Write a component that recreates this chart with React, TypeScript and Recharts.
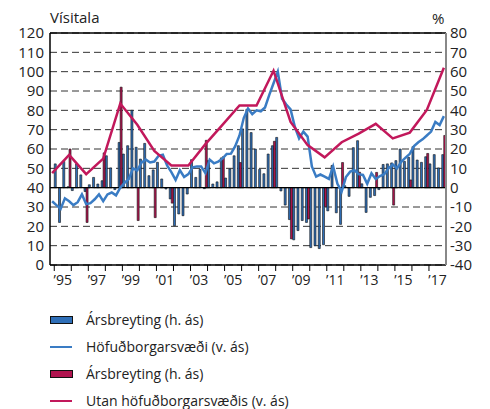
import React from 'react';
import { ComposedChart, Bar, Line, XAxis, YAxis, CartesianGrid, ReferenceLine } from 'recharts';

// Quarterly series, first quarter = 1994 Q4, last = 2017 Q4
const blueIndex = [
  33, 31, 29, 34.5, 33, 31, 32.5, 36.5, 31.5, 32, 34, 36.5, 33, 36.5, 37.5, 36,
  40, 42.5, 44.5, 50, 49, 53, 54.5, 53, 53.5, 56.5, 57, 51.5, 48, 44, 49, 45.5,
  47, 50.5, 51, 51, 47.5, 54.5, 52.6, 53.5, 55, 57.4, 57.6, 61.5, 67, 76, 81, 78,
  80, 79.5, 81.5, 88, 94, 100, 86, 83, 80.5, 71.5, 65.5, 69, 66.4, 51, 45.7, 46.8,
  45.7, 44.5, 51, 42, 38, 45.5, 48.3, 49, 47, 46.6, 42, 47.4, 44.5, 46, 47, 50,
  52, 50, 53.4, 55.5, 57.5, 61.5, 63.5, 65, 67, 69, 74, 72.4, 77,
];
const blueChange: (number | null)[] = [
  null, 12.3, -18, 13.6, 0.5, -1.5, 12.3, 6.6, -2, 1.5, 5.3, 1.9, 3.6, 16.5, 10.2, -1,
  23.4, 17.4, 21.7, 40, 20.9, 14.8, 22.9, 6.2, 9.2, 13.1, 4.5, -0.7, -5.8, -19.7, -13.6, -14.5,
  -3.3, 14.5, 5.3, 9.5, -0.5, 14, 1.9, 3, 15.4, 5, 9.7, 16.5, 21.7, 30.4, 40.5, 28.5,
  20, 9.5, 7.2, 17.4, 21.7, 26, -1.7, -9, -16.5, -27, -22.2, -17, -18, -31, -30, -31.5,
  -29.5, -12, 11.5, -13, -19, 1, -4.5, 20.7, 24.3, 2, -12.8, -5, -4.1, -1, 12, 12.3,
  12.8, 14, 20, 13.6, 15.7, 21.2, 14.3, 13.1, 16, 12.3, 17.1, 10.2, 17.1,
];
// Annual series (Q4 of 1994 ... 2017)
const pinkIndex = [
  47.5, 57, 47, 55, 83.5, 72.5, 59, 51.5, 51.5, 62.5, 72.5, 82.5,
  82.5, 100.5, 74, 62, 55.7, 63.5, 68, 73, 65.5, 68.5, 80.2, 102,
];
const pinkChange: (number | null)[] = [
  null, 20, -18, 18, 52, -17, -15.5, -8, 0, 24.5, 16, 13,
  0, 24, -26.5, -16.2, -9.8, 13, 8, 7.9, -9, 4, 17.7, 27,
];
const labelYears = [1995, 1997, 1999, 2001, 2003, 2005, 2007, 2009, 2011, 2013, 2015, 2017];
const yearLabels = ['’95', '’97', '’99', '’01', '’03', '’05', '’07', '’09', '’11', '’13', '’15', '’17'];
const leftTicks = [0, 10, 20, 30, 40, 50, 60, 70, 80, 90, 100, 110, 120];
const rightTicks = [-40, -30, -20, -10, 0, 10, 20, 30, 40, 50, 60, 70, 80];

const data = blueIndex.map((v, i) => {
  const isQ4 = i % 4 === 0;
  const k = i / 4;
  return {
    t: 1994.875 + i * 0.25,
    blueIdx: v,
    blueChg: blueChange[i],
    pinkIdx: isQ4 ? pinkIndex[k] : null,
    pinkChg: isQ4 ? pinkChange[k] : null,
  };
});

const xTicks: number[] = [];
for (let y = 1995; y <= 2017; y++) {
  xTicks.push(y);
  if (labelYears.includes(y)) xTicks.push(y + 0.5);
}

const FONT = '"Open Sans", sans-serif';
const BLUE = '#3a7cc4';
const PINK = '#c2185b';
const BLUE_BAR = '#2f6fb8';
const RED_BAR = '#b0144f';

const renderXTick = (props: any) => {
  const { x, y, payload } = props;
  const v = payload.value as number;
  if (Number.isInteger(v)) {
    return <line x1={x} x2={x} y1={y - 6} y2={y} stroke="#000" strokeWidth={1} />;
  }
  const idx = labelYears.indexOf(Math.floor(v));
  if (idx < 0) return <g />;
  return (
    <text x={x} y={y + 14} textAnchor="middle" fontFamily={FONT} fontSize={14} fill="#222">
      {yearLabels[idx]}
    </text>
  );
};

const legendRows = [
  { kind: 'rect', color: BLUE_BAR, label: 'Ársbreyting (h. ás)' },
  { kind: 'line', color: BLUE, label: 'Höfuðborgarsvæði (v. ás)' },
  { kind: 'rect', color: RED_BAR, label: 'Ársbreyting (h. ás)' },
  { kind: 'line', color: PINK, label: 'Utan höfuðborgarsvæðis (v. ás)' },
];

export default function App() {
  return (
    <div style={{ position: 'absolute', left: 0, top: 0, width: 490, height: 409, background: '#fff', overflow: 'hidden' }}>
      <ComposedChart
        width={490}
        height={409}
        data={data}
        margin={{ top: 33, right: 0, left: 0, bottom: 114 }}
        barGap={0}
      >
        <CartesianGrid yAxisId="left" vertical={false} stroke="#333" strokeDasharray="7 4" strokeWidth={1} />
        <XAxis
          dataKey="t"
          type="number"
          domain={[1994.75, 2018]}
          ticks={xTicks}
          interval={0}
          tickLine={false}
          tickSize={6}
          tickMargin={0}
          height={30}
          axisLine={{ stroke: '#000', strokeWidth: 1.5 }}
          tick={renderXTick}
        />
        <YAxis
          yAxisId="left"
          orientation="left"
          width={50}
          domain={[0, 120]}
          ticks={leftTicks}
          interval={0}
          tickLine={false}
          tickSize={0}
          tickMargin={6}
          axisLine={{ stroke: '#000', strokeWidth: 1.5 }}
          tick={{ fontFamily: FONT, fontSize: 15, fill: '#222' }}
        />
        <YAxis
          yAxisId="right"
          orientation="right"
          width={44}
          domain={[-40, 80]}
          ticks={rightTicks}
          interval={0}
          tickLine={false}
          tickSize={0}
          tickMargin={4}
          axisLine={{ stroke: '#888', strokeWidth: 2 }}
          tick={{ fontFamily: FONT, fontSize: 15, fill: '#222', textAnchor: 'start' }}
        />
        <ReferenceLine yAxisId="left" y={40} stroke="#000" strokeWidth={1.2} />
        <ReferenceLine yAxisId="left" y={120} stroke="#000" strokeWidth={1.5} />
        <Bar yAxisId="right" dataKey="blueChg" fill={BLUE_BAR} stroke="#111" strokeWidth={0.6} barSize={2} isAnimationActive={false} />
        <Bar yAxisId="right" dataKey="pinkChg" fill={RED_BAR} stroke="#111" strokeWidth={0.6} barSize={2} isAnimationActive={false} />
        <Line yAxisId="left" type="linear" dataKey="blueIdx" stroke={BLUE} strokeWidth={2.5} dot={false} isAnimationActive={false} />
        <Line yAxisId="left" type="linear" dataKey="pinkIdx" stroke={PINK} strokeWidth={2.5} dot={false} connectNulls isAnimationActive={false} />
      </ComposedChart>
      <svg width={490} height={409} style={{ position: 'absolute', left: 0, top: 0, pointerEvents: 'none' }}>
        <text x={50} y={23} fontFamily={FONT} fontSize={15} fill="#222">Vísitala</text>
        <text x={432} y={24} fontFamily={FONT} fontSize={15} fill="#222">%</text>
        {legendRows.map((r, i) => {
          const cy = 320 + i * 27;
          return (
            <g key={i}>
              {r.kind === 'rect' ? (
                <rect x={50.5} y={cy - 3.5} width={22} height={7} fill={r.color} stroke="#111" strokeWidth={1} />
              ) : (
                <line x1={50} x2={72} y1={cy} y2={cy} stroke={r.color} strokeWidth={2} />
              )}
              <text x={86} y={cy + 5} fontFamily={FONT} fontSize={14} fill="#222">{r.label}</text>
            </g>
          );
        })}
      </svg>
    </div>
  );
}
